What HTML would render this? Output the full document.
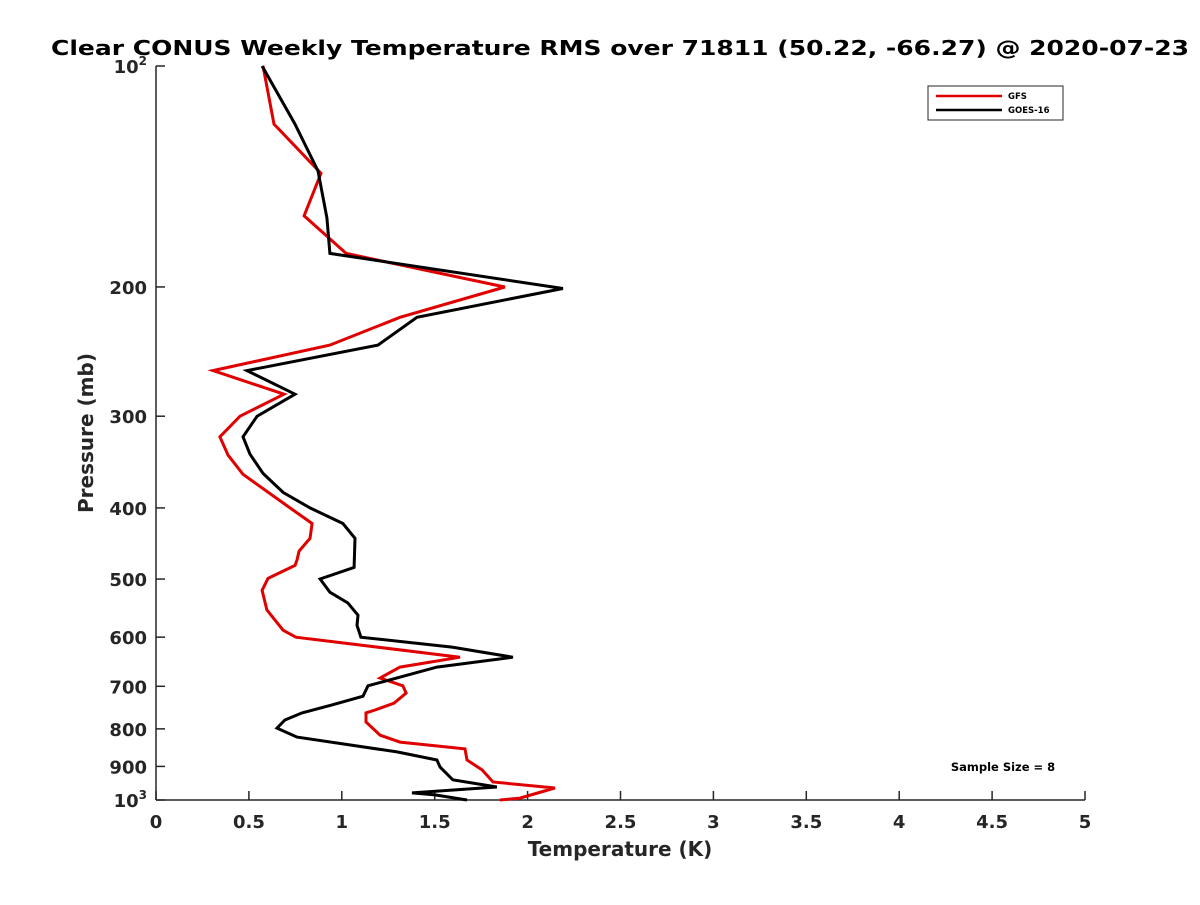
<!DOCTYPE html>
<html><head><meta charset="utf-8"><style>
body{margin:0;background:#fff;}
svg text{font-family:"DejaVu Sans","Liberation Sans",sans-serif;font-weight:bold;fill:#262626;}
</style></head><body>
<svg id="chart" width="1200" height="900" viewBox="0 0 1200 900">
<rect width="1200" height="900" fill="#fff"/>
<text x="51" y="55" font-size="20" textLength="1138" lengthAdjust="spacingAndGlyphs" style="fill:#000">Clear CONUS Weekly Temperature RMS over 71811 (50.22, -66.27) @ 2020-07-23</text>
<g id="axes"></g>
<g id="series"></g>
<text x="620" y="856" font-size="20" text-anchor="middle">Temperature (K)</text>
<text transform="translate(93,433) rotate(-90)" font-size="20" text-anchor="middle">Pressure (mb)</text>
<g>
<rect x="928" y="86" width="135" height="34" fill="#fff" stroke="#262626" stroke-width="1"/>
<line x1="936" y1="96" x2="1002" y2="96" stroke="#e00000" stroke-width="2.5"/>
<text x="1008" y="99" font-size="8.5" style="fill:#000">GFS</text>
<line x1="936" y1="110" x2="1002" y2="110" stroke="#000" stroke-width="2.5"/>
<text x="1008" y="113" font-size="8.5" style="fill:#000">GOES-16</text>
</g>
<text x="1003" y="771" font-size="11.5" text-anchor="middle" style="fill:#000">Sample Size = 8</text>
</svg>
<script>
const xTicks=[0,0.5,1,1.5,2,2.5,3,3.5,4,4.5,5];
const xTickLabels=["0","0.5","1","1.5","2","2.5","3","3.5","4","4.5","5"];
const yTicks=[100,200,300,400,500,600,700,800,900,1000];
const gfsPressure=[100,120,140,160,180,200,220,240,260,280,300,320,339,360,400,420,440,458,471,479,499,518,551,587,600,639,659,682,699,715,738,754,761,783,816,834,852,882,910,945,963,994,1000];
const gfsTemp=[0.576,0.635,0.888,0.797,1.023,1.878,1.313,0.936,0.307,0.689,0.452,0.344,0.388,0.468,0.721,0.840,0.829,0.770,0.759,0.748,0.603,0.571,0.597,0.684,0.753,1.636,1.313,1.206,1.329,1.346,1.281,1.179,1.130,1.130,1.206,1.313,1.663,1.674,1.755,1.814,2.147,1.959,1.851];
const goesPressure=[100,120,139,161,180,201,220,240,260,280,300,320,338,359,381,400,420,440,482,500,521,539,560,578,600,619,639,659,699,722,742,761,778,798,821,860,882,902,939,960,978,984,1000];
const goesTemp=[0.571,0.748,0.872,0.920,0.936,2.190,1.405,1.195,0.490,0.748,0.544,0.468,0.506,0.576,0.684,0.829,1.006,1.071,1.066,0.883,0.936,1.033,1.087,1.082,1.103,1.593,1.921,1.512,1.141,1.114,0.947,0.786,0.694,0.651,0.759,1.297,1.512,1.529,1.598,1.835,1.378,1.502,1.674];
const X0=156,X1=1085,Y0=66,Y1=800;
const xs=t=>X0+(t-0)/(5-0)*(X1-X0);
const ys=p=>Y0+(Math.log10(p)-2)*(Y1-Y0);
const NS="http://www.w3.org/2000/svg";
function mk(tag,attrs,parent){const e=document.createElementNS(NS,tag);for(const k in attrs)e.setAttribute(k,attrs[k]);parent.appendChild(e);return e;}
const axes=document.getElementById('axes');
const xa=mk('line',{x1:X0,y1:Y1,x2:X1,y2:Y1,stroke:'#262626','stroke-width':1.5},axes);


const ya=mk('line',{x1:X0,y1:Y0,x2:X0,y2:Y1,stroke:'#262626','stroke-width':1.5},axes);


xTicks.forEach((t,i)=>{
 const x=xs(t);
 mk('line',{x1:x,y1:Y1,x2:x,y2:Y1-9,stroke:'#262626','stroke-width':1.5},axes);
 const tx=mk('text',{x:x,y:828,'font-size':18,'text-anchor':'middle'},axes);
 tx.textContent=xTickLabels[i];
 
 
});
yTicks.forEach(p=>{
 const y=ys(p);
 mk('line',{x1:X0,y1:y,x2:X0+9,y2:y,stroke:'#262626','stroke-width':1.5},axes);
 const tx=mk('text',{x:147,y:y+7,'font-size':18,'text-anchor':'end'},axes);
 if(p===100||p===1000){
  tx.textContent='10';
  const s=mk('tspan',{dy:-8,'font-size':12},tx);s.textContent=p===100?'2':'3';
  tx.setAttribute('x',147);
 } else tx.textContent=String(p);
 
 
});
const ser=document.getElementById('series');
function line(T,P,color,name){
 const d=T.map((t,i)=>(i?'L':'M')+xs(t).toFixed(1)+','+ys(P[i]).toFixed(1)).join('');
 const e=mk('path',{d:d,fill:'none',stroke:color,'stroke-width':3,'stroke-linejoin':'miter'},ser);
 
 
}
line(gfsTemp,gfsPressure,'#e00000','gfs-line');
line(goesTemp,goesPressure,'#000000','goes16-line');
</script>
</body></html>
